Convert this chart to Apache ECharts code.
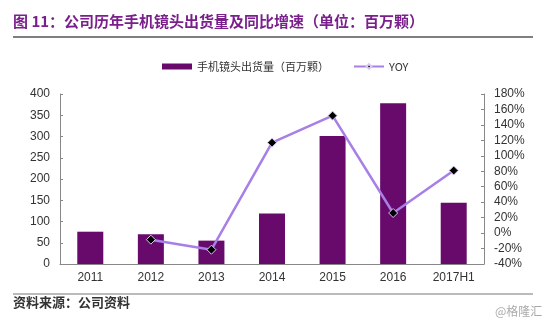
<!DOCTYPE html>
<html><head><meta charset="utf-8">
<script src="https://cdn.jsdelivr.net/npm/echarts@6/dist/echarts.min.js"></script>
<style>html,body{margin:0;padding:0;background:#fff}#c{width:550px;height:326px}</style>
</head><body><div id="c"></div>
<script>
const categories = ['2011','2012','2013','2014','2015','2016','2017H1'];
const shipments = [76, 70, 55, 119, 301, 378, 144];
const yoy = [null, -8.5, -21.5, 117, 152, 26, 81];
const leftTicks = [0, 400, 50];
const rightTicks = [-40, 180, 20];
const titleText = '图 11：公司历年手机镜头出货量及同比增速（单位：百万颗）';
const sourceText = '资料来源：公司资料';
const watermark = '@格隆汇';

const chart = echarts.init(document.getElementById('c'));
chart.setOption({
  animation: false,
  backgroundColor: '#fff',
  textStyle: { fontFamily: 'Liberation Sans, Arial, sans-serif' },
  graphic: [
    { type: 'text', left: 13, top: 14, style: { text: titleText, font: 'bold 15px "Noto Sans CJK SC"', fill: '#7a1f8c' } },
    { type: 'line', shape: { x1: 13, y1: 37, x2: 533, y2: 37 }, style: { stroke: '#555', lineWidth: 1.5 } },
    { type: 'line', shape: { x1: 13, y1: 294, x2: 533, y2: 294 }, style: { stroke: '#777', lineWidth: 1 } },
    { type: 'text', left: 13, top: 296, style: { text: sourceText, font: 'bold 13px "Noto Sans CJK SC"', fill: '#333' } },
    { type: 'text', left: 495, top: 305, style: { text: watermark, font: '12px "Noto Sans CJK SC"', fill: '#aaa' } }
  ],
  legend: {
    top: 56, left: 157, itemGap: 24, itemWidth: 30, itemHeight: 6,
    textStyle: { fontSize: 11, color: '#333', fontFamily: '"Noto Sans CJK SC", sans-serif' },
    data: [
      { name: '手机镜头出货量（百万颗）', icon: 'rect' },
      { name: 'YOY' }
    ]
  },
  grid: { left: 60, right: 66, top: 94, bottom: 62 },
  xAxis: {
    type: 'category', data: categories,
    axisLine: { lineStyle: { color: '#888' } },
    axisTick: { inside: true, length: 4, lineStyle: { color: '#888' } },
    axisLabel: { color: '#333', fontSize: 12, margin: 8 }
  },
  yAxis: [
    { type: 'value', min: leftTicks[0], max: leftTicks[1], interval: leftTicks[2],
      axisLine: { show: true, lineStyle: { color: '#888' } },
      axisTick: { show: true, inside: true, length: 3, lineStyle: { color: '#888' } },
      splitLine: { show: false },
      axisLabel: { color: '#333', fontSize: 12, margin: 10 } },
    { type: 'value', min: rightTicks[0], max: rightTicks[1], interval: rightTicks[2],
      axisLine: { show: true, lineStyle: { color: '#888' } },
      axisTick: { show: true, inside: true, length: 3, lineStyle: { color: '#888' } },
      splitLine: { show: false },
      axisLabel: { color: '#333', fontSize: 12, margin: 10, formatter: '{value}%' } }
  ],
  series: [
    { name: '手机镜头出货量（百万颗）', type: 'bar', data: shipments, barWidth: 26,
      itemStyle: { color: '#680a6c' } },
    { name: 'YOY', type: 'line', yAxisIndex: 1, data: yoy,
      symbol: 'diamond', symbolSize: 9,
      lineStyle: { color: '#a77fe6', width: 2.5 },
      itemStyle: { color: '#000', borderColor: '#d8c8f5', borderWidth: 1 } }
  ]
});
</script></body></html>
